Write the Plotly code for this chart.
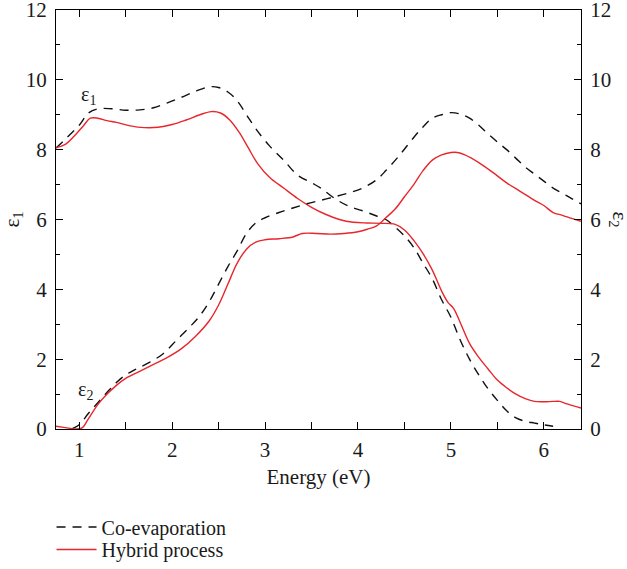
import plotly.graph_objects as go

# Co-evaporation epsilon_1
co_e1_x = [0.75, 0.85, 1.0, 1.1, 1.2, 1.35, 1.5, 1.65, 1.8, 1.95, 2.1, 2.25, 2.4, 2.5, 2.6, 2.7, 2.8, 2.9,
           3.05, 3.2, 3.35, 3.5, 3.6, 3.75, 3.9, 4.05, 4.2, 4.3, 4.4, 4.5, 4.6, 4.7, 4.8, 4.9, 5.0, 5.1,
           5.2, 5.3, 5.4, 5.5, 5.6, 5.7, 5.8, 5.9, 6.0, 6.1]
co_e1_y = [8.05, 8.3, 8.7, 9.05, 9.17, 9.17, 9.13, 9.14, 9.2, 9.34, 9.5, 9.67, 9.8, 9.78, 9.65, 9.4, 9.0, 8.6,
           8.1, 7.7, 7.27, 7.05, 6.9, 6.6, 6.38, 6.25, 6.1, 6.0, 5.78, 5.53, 5.2, 4.75, 4.3, 3.7, 3.2, 2.55,
           2.0, 1.55, 1.15, 0.82, 0.52, 0.32, 0.22, 0.17, 0.12, 0.08]

# Hybrid process epsilon_1
hy_e1_x = [0.75, 0.85, 0.95, 1.05, 1.12, 1.2, 1.3, 1.4, 1.55, 1.7, 1.85, 2.0, 2.15, 2.3, 2.42, 2.52, 2.62,
           2.72, 2.82, 2.92, 3.05, 3.2, 3.35, 3.5, 3.65, 3.8, 3.95, 4.1, 4.25, 4.4, 4.5, 4.6, 4.7, 4.8, 4.9,
           4.97, 5.03, 5.1, 5.2, 5.3, 5.4, 5.5, 5.6, 5.7, 5.8, 5.9, 6.0, 6.1, 6.17, 6.25, 6.4]
hy_e1_y = [8.05, 8.15, 8.4, 8.7, 8.9, 8.9, 8.83, 8.78, 8.68, 8.63, 8.64, 8.72, 8.85, 9.0, 9.09, 9.05, 8.85,
           8.5, 8.05, 7.6, 7.2, 6.9, 6.6, 6.35, 6.15, 6.0, 5.92, 5.9, 5.89, 5.86, 5.7, 5.4, 5.02, 4.55, 3.95,
           3.62, 3.45, 3.05, 2.45, 2.05, 1.72, 1.4, 1.18, 1.0, 0.87, 0.79, 0.78, 0.79, 0.79, 0.72, 0.6]

# Co-evaporation epsilon_2
co_e2_x = [0.92, 1.0, 1.1, 1.2, 1.3, 1.4, 1.5, 1.6, 1.75, 1.9, 2.05, 2.2, 2.3, 2.4, 2.5, 2.6, 2.7, 2.8, 2.9,
           3.0, 3.15, 3.3, 3.45, 3.6, 3.75, 3.9, 4.05, 4.2, 4.3, 4.45, 4.6, 4.7, 4.8, 4.9, 5.0, 5.1, 5.2,
           5.3, 5.4, 5.5, 5.6, 5.7, 5.8, 5.9, 6.0, 6.1, 6.2, 6.3, 6.4]
co_e2_y = [0.0, 0.12, 0.45, 0.75, 1.05, 1.33, 1.55, 1.7, 1.9, 2.15, 2.55, 2.95, 3.25, 3.65, 4.15, 4.65, 5.1,
           5.6, 5.9, 6.05, 6.2, 6.33, 6.45, 6.55, 6.65, 6.76, 6.9, 7.14, 7.4, 7.85, 8.35, 8.65, 8.9, 9.0,
           9.06, 9.02, 8.9, 8.7, 8.45, 8.22, 8.0, 7.75, 7.5, 7.3, 7.1, 6.9, 6.75, 6.6, 6.45]

# Hybrid process epsilon_2
hy_e2_x = [0.75, 0.85, 0.95, 1.03, 1.1, 1.2, 1.3, 1.4, 1.5, 1.65, 1.8, 1.95, 2.1, 2.25, 2.4, 2.5, 2.6, 2.7,
           2.8, 2.9, 3.0, 3.15, 3.3, 3.4, 3.55, 3.7, 3.85, 4.0, 4.1, 4.2, 4.3, 4.4, 4.5, 4.6, 4.7, 4.8, 4.9,
           5.0, 5.07, 5.15, 5.3, 5.45, 5.6, 5.75, 5.9, 6.0, 6.1, 6.2, 6.3, 6.4]
hy_e2_y = [0.08, 0.04, 0.0, 0.03, 0.3, 0.7, 1.0, 1.25, 1.45, 1.65, 1.85, 2.05, 2.3, 2.65, 3.1, 3.55, 4.15,
           4.75, 5.15, 5.35, 5.42, 5.45, 5.5, 5.6, 5.6, 5.58, 5.6, 5.65, 5.72, 5.82, 6.05, 6.3, 6.65, 7.0,
           7.4, 7.7, 7.85, 7.92, 7.92, 7.85, 7.63, 7.35, 7.05, 6.8, 6.55, 6.4, 6.2, 6.12, 6.03, 5.95]

x_ticks = [1, 2, 3, 4, 5, 6]
y_ticks = [0, 2, 4, 6, 8, 10, 12]

FONT = "Liberation Serif"
RED = "#e8262c"
BLACK = "#111111"
TXT = "#1a1a1a"
dash = "9px,7px"

fig = go.Figure()
fig.add_trace(go.Scatter(x=co_e1_x, y=co_e1_y, mode="lines", name="Co-evaporation", legend="legend",
                         line=dict(color=BLACK, width=1.4, dash=dash, shape="spline", smoothing=1.0)))
fig.add_trace(go.Scatter(x=hy_e1_x, y=hy_e1_y, mode="lines", name="Hybrid process", legend="legend2",
                         line=dict(color=RED, width=1.4, shape="spline", smoothing=1.0)))
fig.add_trace(go.Scatter(x=co_e2_x, y=co_e2_y, mode="lines", name="Co-evaporation", showlegend=False,
                         yaxis="y2",
                         line=dict(color=BLACK, width=1.4, dash=dash, shape="spline", smoothing=1.0)))
fig.add_trace(go.Scatter(x=hy_e2_x, y=hy_e2_y, mode="lines", name="Hybrid process", showlegend=False,
                         yaxis="y2",
                         line=dict(color=RED, width=1.4, shape="spline", smoothing=1.0)))

axis_common = dict(showgrid=False, zeroline=False, showline=True, linecolor="black", linewidth=1.3,
                   ticks="inside", ticklen=7, tickwidth=1.2, tickcolor="black",
                   automargin=False, ticklabeloverflow="allow",
                   tickfont=dict(family=FONT, size=21, color=TXT))

# paper area: top margin 0, plot top placed via y domain (10 px below figure top)
PAPER_H = 569 - 139
Y_DOMAIN = [0, 1 - 10 / PAPER_H]
leg_common = dict(xanchor="left", yanchor="middle", bgcolor="rgba(0,0,0,0)", itemwidth=40,
                  borderwidth=0, font=dict(family=FONT, size=20, color=TXT))

fig.update_layout(
    width=627, height=569,
    margin=dict(l=56, r=46, t=0, b=139),
    paper_bgcolor="white", plot_bgcolor="white",
    font=dict(family=FONT, size=20, color=TXT),
    xaxis=dict(range=[0.75, 6.4], tickvals=x_ticks, mirror="allticks", ticklabelstandoff=2,
               minor=dict(dtick=0.5, ticklen=4, tickwidth=1.2, tickcolor="black", ticks="inside"),
               title=dict(text="Energy (eV)", font=dict(family=FONT, size=21), standoff=7),
               **axis_common),
    yaxis=dict(range=[0, 12], tickvals=y_ticks, domain=Y_DOMAIN, ticklabelstandoff=4,
               minor=dict(dtick=1, ticklen=4, tickwidth=1.2, tickcolor="black", ticks="inside"),
               title=dict(text="ε<sub>1</sub>", font=dict(family=FONT, size=21), standoff=12),
               **axis_common),
    yaxis2=dict(range=[0, 12], tickvals=y_ticks, overlaying="y", side="right", ticklabelstandoff=4,
                minor=dict(dtick=1, ticklen=4, tickwidth=1.2, tickcolor="black", ticks="inside"),
                **axis_common),
    legend=dict(x=-0.0085, y=-(527 - 430) / PAPER_H, **leg_common),
    legend2=dict(x=-0.0085, y=-(551 - 430) / PAPER_H, **leg_common),
    showlegend=True,
)

fig.add_annotation(x=1.105, y=9.54, xref="x", yref="y", text="ε<sub>1</sub>", showarrow=False,
                   font=dict(family=FONT, size=20, color=TXT))
fig.add_annotation(x=1.07, y=1.09, xref="x", yref="y", text="ε<sub>2</sub>", showarrow=False,
                   font=dict(family=FONT, size=20, color=TXT))
fig.add_annotation(x=1.0, xref="paper", xanchor="center", xshift=38, y=0.5, yref="y domain",
                   yanchor="middle", text="ε<sub>2</sub>",
                   showarrow=False, textangle=90, font=dict(family=FONT, size=21, color=TXT))

fig.write_html("out.html")
